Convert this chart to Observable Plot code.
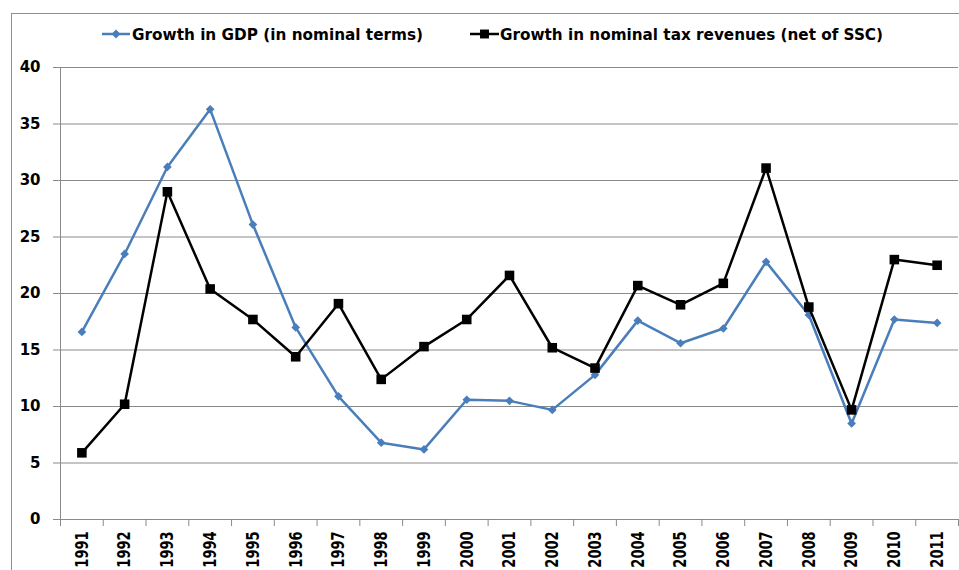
<!DOCTYPE html>
<html>
<head>
<meta charset="utf-8">
<script src="https://cdn.jsdelivr.net/npm/d3@7"></script>
<script src="https://cdn.jsdelivr.net/npm/@observablehq/plot@0.6"></script>
<style>
  html, body { margin: 0; padding: 0; background: #fff; }
  #wrap { position: relative; width: 959px; height: 570px; overflow: hidden; background: #fff; }
  #frame { position: absolute; left: 11px; top: 13px; width: 1000px; height: 1000px; border: 1px solid #8e8e8e; box-sizing: border-box; }
  #chart, #legend { position: absolute; left: 0; top: 0; }
</style>
</head>
<body>
<div id="wrap">
  <div id="frame"></div>
  <div id="chart"></div>
  <svg id="legend" width="959" height="60"></svg>
</div>
<script>
const years = [1991,1992,1993,1994,1995,1996,1997,1998,1999,2000,2001,2002,2003,2004,2005,2006,2007,2008,2009,2010,2011];
const gdpGrowth = [16.6,23.5,31.2,36.3,26.1,17.0,10.9,6.8,6.2,10.6,10.5,9.7,12.8,17.6,15.6,16.9,22.8,18.1,8.5,17.7,17.4];
const taxGrowth = [5.9,10.2,29.0,20.4,17.7,14.4,19.1,12.4,15.3,17.7,21.6,15.2,13.4,20.7,19.0,20.9,31.1,18.8,9.7,23.0,22.5];
const yTicks = [0,5,10,15,20,25,30,35,40];
const seriesNames = ["Growth in GDP (in nominal terms)", "Growth in nominal tax revenues (net of SSC)"];
const seriesColors = ["#4a7ebb", "#000000"];

const data = years.map((y, i) => ({year: y, gdp: gdpGrowth[i], tax: taxGrowth[i]}));
const bounds = years.map(y => y - 0.5).concat([years[years.length - 1] + 0.5]);

const chart = Plot.plot({
  width: 959,
  height: 570,
  marginLeft: 60,
  marginRight: 1,
  marginTop: 67,
  marginBottom: 51,
  style: {fontFamily: "DejaVu Sans", background: "transparent", overflow: "visible", color: "#000"},
  x: {type: "linear", domain: [bounds[0], bounds[bounds.length - 1]], axis: null},
  y: {domain: [0, 40], axis: null, label: null},
  marks: [
    Plot.gridY(yTicks, {stroke: "#8a8a8a", strokeOpacity: 1, strokeWidth: 1}),
    Plot.axisY(yTicks, {tickSize: 7, tickPadding: 13, fontSize: 15, fontWeight: "bold", stroke: "#8a8a8a", fill: "#000", label: null}),
    Plot.ruleX([bounds[0]], {stroke: "#8a8a8a", strokeWidth: 1}),
    Plot.axisX(bounds, {tickSize: 7, tickFormat: () => "", stroke: "#8a8a8a", label: null}),
    Plot.text(years, {x: d => d, frameAnchor: "bottom", dy: 12, rotate: -90, textAnchor: "end", lineAnchor: "middle",
      text: d => String(d), fontSize: 13, fontWeight: "bold", fill: "#000"}),
    Plot.line(data, {x: "year", y: "gdp", stroke: seriesColors[0], strokeWidth: 2.5}),
    Plot.dot(data, {x: "year", y: "gdp", symbol: "diamond2", r: 3.9, fill: seriesColors[0], stroke: "none"}),
    Plot.line(data, {x: "year", y: "tax", stroke: seriesColors[1], strokeWidth: 2.5}),
    Plot.dot(data, {x: "year", y: "tax", symbol: "square", r: 5.4, fill: seriesColors[1], stroke: "none"})
  ]
});
document.getElementById("chart").appendChild(chart);

// widen rotated year labels horizontally like the reference
d3.select(chart).selectAll("text").each(function() {
  const t = this.getAttribute("transform") || "";
  if (/rotate\(-90\)/.test(t)) this.setAttribute("transform", t + " scale(1,1.4)");
});
d3.select(chart).selectAll("g").each(function() {
  const t = this.getAttribute("transform") || "";
  if (/rotate\(-90\)/.test(t)) {
    d3.select(this).selectAll("text").each(function() {
      const tt = this.getAttribute("transform") || "";
      this.setAttribute("transform", tt + " scale(1,1.4)");
    });
  }
});

// legend
const lg = d3.select("#legend");
const items = [
  {x1: 102, x2: 130, tx: 132, tl: 291, sym: d3.symbolDiamond2, size: 50},
  {x1: 470, x2: 499, tx: 500, tl: 383, sym: d3.symbolSquare, size: 80}
];
items.forEach((it, i) => {
  lg.append("line").attr("x1", it.x1).attr("x2", it.x2).attr("y1", 34).attr("y2", 34)
    .attr("stroke", seriesColors[i]).attr("stroke-width", 2.5);
  lg.append("path").attr("d", d3.symbol(it.sym, it.size)())
    .attr("transform", `translate(${(it.x1 + it.x2) / 2},34)`).attr("fill", seriesColors[i]);
  lg.append("text").attr("x", it.tx).attr("y", 39.5).text(seriesNames[i])
    .attr("font-family", "DejaVu Sans").attr("font-weight", "bold").attr("font-size", 15)
    .attr("textLength", it.tl).attr("lengthAdjust", "spacingAndGlyphs").attr("fill", "#000");
});
</script>
</body>
</html>
